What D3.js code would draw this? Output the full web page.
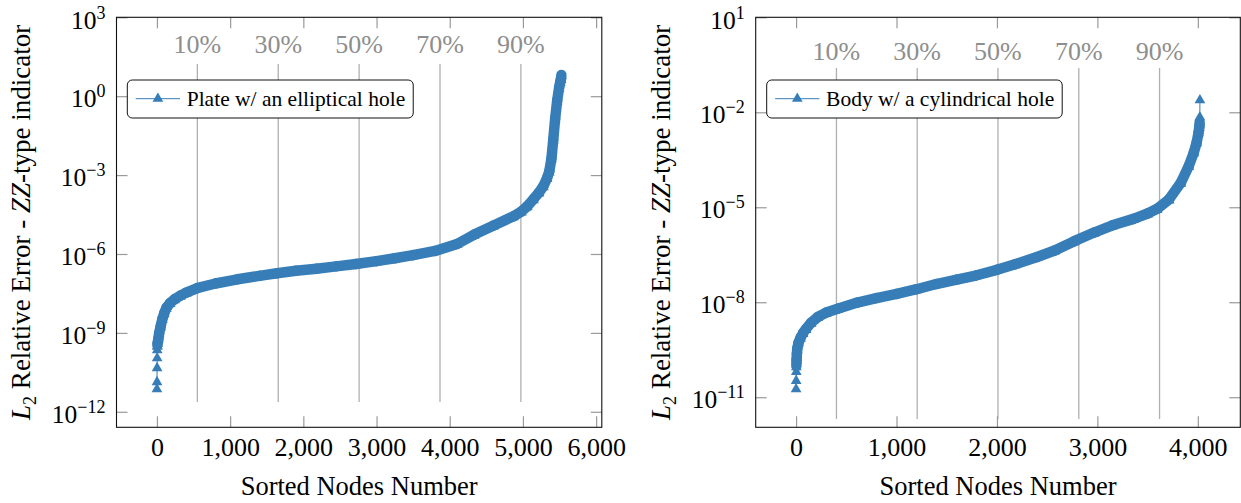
<!DOCTYPE html>
<html><head><meta charset="utf-8">
<script src="https://cdn.jsdelivr.net/npm/d3@7"></script>
<style>
body{margin:0;background:#fff}
text{font-family:"Liberation Serif","Times New Roman",serif}
</style>
</head><body>
<svg id="c" width="1241" height="503"></svg>
<script>
// ---------- data ----------
const plateIdx = [0,1,2,3,4,5,6,10,20,30,50,75,100,130,180,240,320,400,560,800,1100,1400,1640,1900,2180,2450,2720,3000,3250,3500,3800,4100,4335,4600,4873,4980,5060,5144,5220,5280,5330,5360,5390,5414,5440,5468,5495,5510,5520,5525];
const plateVal = [7.2e-12,1.35e-11,4.6e-11,1.1e-10,2.2e-10,3.0e-10,3.3e-10,3.8e-10,5.6e-10,8.9e-10,1.6e-9,3.2e-9,5.2e-9,8.3e-9,1.26e-8,1.74e-8,2.4e-8,3.1e-8,4.7e-8,6.9e-8,1.0e-7,1.35e-7,1.7e-7,2.1e-7,2.5e-7,3.1e-7,3.8e-7,4.9e-7,6.3e-7,8.3e-7,1.2e-6,2.2e-6,5.0e-6,1.12e-5,2.5e-5,3.8e-5,6.0e-5,1.12e-4,2.0e-4,3.5e-4,7.1e-4,1.26e-3,4.0e-3,2.0e-2,0.126,0.63,2.0,3.2,4.2,5.9];

const bodyIdx = [0,1,2,3,5,8,12,25,45,70,100,150,217,300,414,610,800,1003,1200,1396,1600,1789,2000,2181,2400,2575,2770,2967,3150,3360,3500,3595,3714,3832,3911,3960,3989,4008,4015,4018,4019,4020,4021];
const bodyVal = [1.8e-11,3.3e-11,6.3e-11,8.9e-11,1.4e-10,2.2e-10,3.2e-10,5.0e-10,7.1e-10,1.0e-9,1.35e-9,2.1e-9,3.2e-9,4.4e-9,5.8e-9,9.1e-9,1.26e-8,1.7e-8,2.4e-8,3.5e-8,4.8e-8,6.5e-8,9.8e-8,1.48e-7,2.5e-7,4.0e-7,7.9e-7,1.48e-6,2.5e-6,4.0e-6,5.9e-6,8.3e-6,1.66e-5,5.6e-5,1.9e-4,5.0e-4,1.05e-3,2.2e-3,3.2e-3,4.5e-3,5.0e-3,7.0e-3,2.4e-2];

const pctLabels = ["10%","30%","50%","70%","90%"];
const platePctX = [552,1657,2762,3867,4972];
const bodyPctX = [402,1206,2010,2815,3619];

const plateXTicks = [0,1000,2000,3000,4000,5000,6000];
const bodyXTicks = [0,1000,2000,3000,4000];
const plateYExp = [3,0,-3,-6,-9,-12];
const bodyYExp = [1,-2,-5,-8,-11];

const plateLegend = "Plate w/ an elliptical hole";
const bodyLegend = "Body w/ a cylindrical hole";
const xTitle = "Sorted Nodes Number";

// ---------- drawing ----------
const BLUE = "#377eb8";
const svg = d3.select("#c");
const tri = r => `M0,${-r}L${0.866*r},${0.5*r}L${-0.866*r},${0.5*r}Z`;
const fmtX = d3.format(",.0f");
const sup = e => (e < 0 ? "\u2212" + (-e) : "" + e);

function panel(cfg){
  const x = d3.scaleLinear().domain(cfg.xDomain).range([cfg.x0, cfg.x1]);
  const y = d3.scaleLog().domain(cfg.yDomain).range([cfg.y1, cfg.y0]);
  const g = svg.append("g");

  // percent guide lines + labels
  cfg.pctX.forEach((v,k)=>{
    g.append("line").attr("x1",x(v)).attr("x2",x(v))
      .attr("y1",cfg.pctTop).attr("y2",cfg.pctBot)
      .attr("stroke","#b0b0b0").attr("stroke-width",1.3);
    g.append("text").attr("x",x(v)).attr("y",cfg.pctLabelY)
      .attr("text-anchor","middle").attr("fill","#8e8e8e")
      .attr("font-size",26).text(pctLabels[k]);
  });

  // axes
  const yTickVals = cfg.yExp.map(e=>Math.pow(10,e));
  const bottom = g.append("g").attr("transform",`translate(0,${cfg.y1})`)
    .call(d3.axisBottom(x).tickValues(cfg.xTicks).tickSize(-11).tickPadding(10).tickFormat(fmtX));
  const top = g.append("g").attr("transform",`translate(0,${cfg.y0})`)
    .call(d3.axisTop(x).tickValues(cfg.xTicks).tickSize(-11).tickFormat(""));
  const left = g.append("g").attr("transform",`translate(${cfg.x0},0)`)
    .call(d3.axisLeft(y).tickValues(yTickVals).tickSize(-11).tickPadding(11).tickFormat(""));
  const right = g.append("g").attr("transform",`translate(${cfg.x1},0)`)
    .call(d3.axisRight(y).tickValues(yTickVals).tickSize(-11).tickFormat(""));
  [bottom,top,left,right].forEach(a=>{
    a.select(".domain").remove();
    a.selectAll(".tick line").attr("stroke","#9a9a9a").attr("stroke-width",1.2);
  });
  bottom.selectAll("text").attr("font-family","Liberation Serif, serif")
    .attr("font-size",26).attr("fill","#000");
  left.selectAll(".tick text").each(function(d){
    const t = d3.select(this);
    const e = Math.round(Math.log10(d));
    t.text(null).attr("font-family","Liberation Serif, serif").attr("font-size",25.5)
      .attr("fill","#000").attr("dy","0.42em");
    t.append("tspan").text("10");
    t.append("tspan").attr("font-size",18).attr("dy",-10).text(sup(e));
  });

  // data: thin line, dense band, markers
  const pts = cfg.idx.map((v,k)=>({i:v, v:cfg.val[k], px:x(v), py:y(cfg.val[k])}));
  g.append("path").datum(pts)
    .attr("d", d3.line().x(d=>d.px).y(d=>d.py))
    .attr("fill","none").attr("stroke",BLUE).attr("stroke-width",1);
  const segs = [];
  for(let k=1;k<pts.length;k++){
    const a=pts[k-1], b=pts[k];
    if (b.i - a.i > 1) segs.push([a,b]);   // dense nodes between samples -> solid band
  }
  g.append("g").selectAll("line").data(segs).join("line")
    .attr("x1",d=>d[0].px).attr("y1",d=>d[0].py-1)
    .attr("x2",d=>d[1].px).attr("y2",d=>d[1].py-1)
    .attr("stroke",BLUE).attr("stroke-width",10.5).attr("stroke-linecap","round");
  g.append("g").selectAll("path").data(pts).join("path")
    .attr("transform",d=>`translate(${d.px},${d.py})`)
    .attr("d",tri(6.2)).attr("fill",BLUE);

  // frame
  g.append("rect").attr("x",cfg.x0).attr("y",cfg.y0)
    .attr("width",cfg.x1-cfg.x0).attr("height",cfg.y1-cfg.y0)
    .attr("fill","none").attr("stroke","#111").attr("stroke-width",1.1);

  // legend
  const lg = g.append("g").attr("transform",`translate(${cfg.legX},${cfg.legY})`);
  const box = lg.append("rect");
  const lt = lg.append("text").attr("x",59.4).attr("y",26).attr("font-size",21.5)
    .attr("fill","#000").text(cfg.legend);
  const w = lt.node().getComputedTextLength() + 59.4 + 8;
  box.attr("x",0).attr("y",0).attr("width",w).attr("height",38).attr("rx",5)
    .attr("fill","#fff").attr("stroke","#111").attr("stroke-width",1);
  lg.append("line").attr("x1",8.4).attr("x2",52.7).attr("y1",18.7).attr("y2",18.7)
    .attr("stroke",BLUE).attr("stroke-width",1);
  lg.append("path").attr("transform","translate(30.6,18.7)").attr("d",tri(6.2)).attr("fill",BLUE);

  // titles
  g.append("text").attr("x",(cfg.x0+cfg.x1)/2).attr("y",495).attr("text-anchor","middle")
    .attr("font-size",26.5).attr("fill","#000").text(xTitle);
  const yt = g.append("text").attr("transform",`translate(${cfg.yTitleX},${(cfg.y0+cfg.y1)/2}) rotate(-90)`)
    .attr("text-anchor","middle").attr("font-size",27).attr("fill","#000");
  yt.append("tspan").attr("font-style","italic").text("L");
  yt.append("tspan").attr("font-size",18).attr("dy",6).text("2");
  yt.append("tspan").attr("dy",-6).text(" Relative Error - ");
  yt.append("tspan").attr("font-style","italic").text("ZZ");
  yt.append("tspan").text("-type indicator");
}

panel({x0:116.5, x1:601.8, y0:17.3, y1:427.3,
  xDomain:[-552.5, 6077.5], yDomain:[Math.pow(10,-12.59), 1e3],
  xTicks:plateXTicks, yExp:plateYExp, pctX:platePctX,
  pctTop:64, pctBot:402, pctLabelY:53,
  idx:plateIdx, val:plateVal, legend:plateLegend, legX:127.3, legY:80, yTitleX:30});

panel({x0:755.7, x1:1240.3, y0:17.3, y1:427.3,
  xDomain:[-402, 4423], yDomain:[Math.pow(10,-11.95), 10],
  xTicks:bodyXTicks, yExp:bodyYExp, pctX:bodyPctX,
  pctTop:68, pctBot:419, pctLabelY:60,
  idx:bodyIdx, val:bodyVal, legend:bodyLegend, legX:766.7, legY:80, yTitleX:670});
</script>
</body></html>
